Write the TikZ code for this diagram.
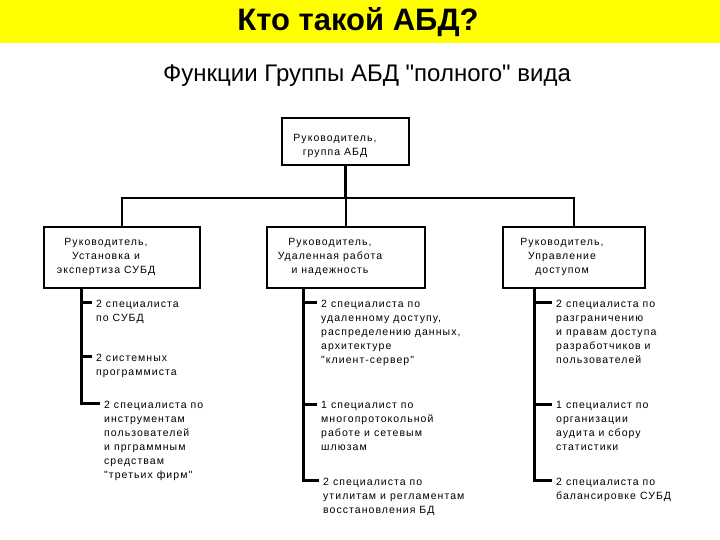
\documentclass[tikz,border=0pt]{standalone}
\usepackage{fontspec}
\setmainfont{Liberation Sans}[Ligatures=TeXOff]
\newfontfamily\boxfont{Liberation Sans}[LetterSpace=10,Ligatures=TeXOff]
\usetikzlibrary{calc}
\definecolor{band}{RGB}{255,255,0}
\begin{document}
\begin{tikzpicture}[x=1pt,y=-1pt,
  box/.style={draw, line width=2.6pt, inner sep=0, minimum height=61},
  lbl/.style={font=\boxfont\fontsize{10.5}{14}\selectfont, align=center, inner sep=0},
  item/.style={font=\boxfont\fontsize{10.5}{14}\selectfont, align=left, inner sep=0, anchor=north west},
  wire/.style={line width=2.4pt},
  spine/.style={line width=3pt},
]
\useasboundingbox (0,0) rectangle (720,540);
\fill[band] (0,0) rectangle (720,43);
\node[font=\bfseries\fontsize{31}{31}\selectfont, inner sep=0] (title) at (358,22) {Кто такой АБД?};
\node[font=\fontsize{24}{24}\selectfont, inner sep=0] (sub) at (367,76) {Функции Группы АБД "полного" вида};

% top box
\node[box, minimum width=127, minimum height=47] (top) at (345.5,141.5) {};
\node[lbl] (toptxt) at (335,145.5) {Руководитель,\\группа АБД};

% level 2 boxes
\node[box, minimum width=156] (lbox) at (122,257.5) {};
\node[box, minimum width=158] (mbox) at (346,257.5) {};
\node[box, minimum width=142] (rbox) at (574,257.5) {};
\node[lbl] (ltxt) at (106,257) {Руководитель,\\Установка и\\экспертиза СУБД};
\node[lbl] (mtxt) at (330,257) {Руководитель,\\Удаленная работа\\и надежность};
\node[lbl] (rtxt) at (562,257) {Руководитель,\\Управление\\доступом};

\coordinate (hb) at (346,198);
\draw[wire] (top.south) -- (top.south |- hb);
\draw[wire] (lbox.north) -- (lbox.north |- hb) -| (rbox.north);
\draw[wire] (mbox.north) -- (mbox.north |- hb);

% items left
\node[item] (l1) at (96,299.5) {2 специалиста\\по СУБД};
\node[item] (l2) at (96,353.5) {2 системных\\программиста};
\node[item] (l3) at (104,400.5) {2 специалиста по\\инструментам\\пользователей\\и прграммным\\средствам\\"третьих фирм"};
% items middle
\node[item] (m1) at (321,299.5) {2 специалиста по\\удаленному доступу,\\распределению данных,\\архитектуре\\"клиент-сервер"};
\node[item] (m2) at (321,401.5) {1 специалист по\\многопротокольной\\работе и сетевым\\шлюзам};
\node[item] (m3) at (323,477.5) {2 специалиста по\\утилитам и регламентам\\восстановления БД};
% items right
\node[item] (r1) at (556,299.5) {2 специалиста по\\разграничению\\и правам доступа\\разработчиков и\\пользователей};
\node[item] (r2) at (556,401.5) {1 специалист по\\организации\\аудита и сбору\\статистики};
\node[item] (r3) at (556,477.5) {2 специалиста по\\балансировке СУБД};

\foreach \n in {l1,l2,l3,m1,m2,m3,r1,r2,r3}
  \coordinate (\n t) at ($(\n.north west)+(-4,2.5)$);

\coordinate (lsp) at ($(lbox.south west)+(39,0)$);
\coordinate (msp) at ($(mbox.south west)+(38,0)$);
\coordinate (rsp) at ($(rbox.south west)+(33,0)$);

\draw[spine] (lsp) |- (l3t);
\draw[spine] (lsp |- l1t) -- (l1t);
\draw[spine] (lsp |- l2t) -- (l2t);
\draw[spine] (msp) |- (m3t);
\draw[spine] (msp |- m1t) -- (m1t);
\draw[spine] (msp |- m2t) -- (m2t);
\draw[spine] (rsp) |- (r3t);
\draw[spine] (rsp |- r1t) -- (r1t);
\draw[spine] (rsp |- r2t) -- (r2t);
\end{tikzpicture}
\end{document}
